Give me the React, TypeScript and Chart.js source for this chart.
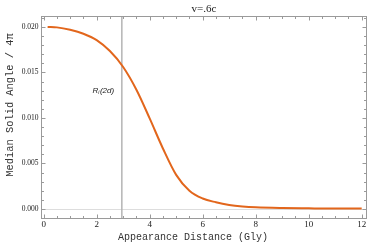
import React, { useEffect, useRef } from "react";
import { Chart, registerables } from "chart.js";
Chart.register(...registerables);

const distances = [0.15, 0.5, 1.0, 1.5, 2.0, 2.5, 3.0, 3.5, 4.0, 4.5, 5.0, 5.5, 6.0, 6.5, 7.0, 7.5, 8.0, 9.0, 10.0, 11.0, 12.0];
const solidAngle = [0.0200, 0.01995, 0.01968, 0.01925, 0.01855, 0.01735, 0.01560, 0.01310, 0.00995, 0.00665, 0.00375, 0.00200, 0.00115, 0.00074, 0.00045, 0.00028, 0.00018, 0.00010, 0.00007, 0.00005, 0.00005];
const xTicks = [0, 2, 4, 6, 8, 10, 12];
const yTicks = [0.0, 0.005, 0.01, 0.015, 0.02];
const yTickLabels = ["0.000", "0.005", "0.010", "0.015", "0.020"];
const markerX = 2.95;
const titleText = "v=.6c";
const xTitle = "Appearance Distance (Gly)";
const yTitle = "Median Solid Angle / 4\u03c0";

const framePlugin = {
  id: "frame",
  beforeDatasetsDraw(chart: any) {
    const { ctx, chartArea: a, scales } = chart;
    const xs = scales.x, ys = scales.y;
    ctx.save();
    ctx.strokeStyle = "#dddddd";
    ctx.lineWidth = 1;
    const y0 = Math.round(ys.getPixelForValue(0)) + 0.5;
    ctx.beginPath(); ctx.moveTo(a.left, y0); ctx.lineTo(a.right, y0); ctx.stroke();
    ctx.strokeStyle = "#b4b4b4";
    ctx.lineWidth = 1.5;
    const mx = xs.getPixelForValue(markerX);
    ctx.beginPath(); ctx.moveTo(mx, a.top); ctx.lineTo(mx, a.bottom); ctx.stroke();
    ctx.restore();
  },
  afterDatasetsDraw(chart: any) {
    const { ctx, chartArea: a, scales } = chart;
    const xs = scales.x, ys = scales.y;
    ctx.save();
    ctx.strokeStyle = "#9a9a9a";
    ctx.lineWidth = 1;
    const L = Math.round(a.left) + 0.5, R = Math.round(a.right) - 0.5;
    const T = Math.round(a.top) + 0.5, B = Math.round(a.bottom) - 0.5;
    ctx.strokeRect(L, T, R - L, B - T);
    for (let v = 0; v <= 12.001; v += 0.5) {
      const major = Math.abs(v - Math.round(v / 2) * 2) < 1e-6;
      const len = major ? 4 : 2.5;
      const px = Math.round(xs.getPixelForValue(v)) + 0.5;
      ctx.beginPath();
      ctx.moveTo(px, B); ctx.lineTo(px, B - len);
      ctx.moveTo(px, T); ctx.lineTo(px, T + len);
      ctx.stroke();
    }
    for (let i = -1; i <= 21; i++) {
      const v = i * 0.001;
      const major = i % 5 === 0;
      const len = major ? 4 : 2.5;
      const py = Math.round(ys.getPixelForValue(v)) + 0.5;
      if (py < T || py > B) continue;
      ctx.beginPath();
      ctx.moveTo(L, py); ctx.lineTo(L + len, py);
      ctx.moveTo(R, py); ctx.lineTo(R - len, py);
      ctx.stroke();
    }
    ctx.fillStyle = "#222";
    ctx.font = "9px 'Liberation Serif'";
    ctx.textAlign = "center";
    ctx.textBaseline = "top";
    xTicks.forEach((v) => {
      ctx.fillText(String(v), xs.getPixelForValue(v), B + 2);
    });
    ctx.font = "7.5px 'Liberation Serif'";
    ctx.textAlign = "right";
    ctx.textBaseline = "middle";
    yTicks.forEach((v, i) => {
      ctx.fillText(yTickLabels[i], L - 3, ys.getPixelForValue(v));
    });
    ctx.font = "11px 'Liberation Serif'";
    ctx.textAlign = "center";
    ctx.textBaseline = "middle";
    ctx.fillText(titleText, (a.left + a.right) / 2, 9.5);
    ctx.font = "10px 'Liberation Mono'";
    ctx.fillStyle = "#333";
    ctx.fillText(xTitle, 193, 237);
    ctx.save();
    ctx.translate(10, 105);
    ctx.rotate(-Math.PI / 2);
    ctx.font = "10.4px 'Liberation Mono'";
    ctx.fillText(yTitle, 0, 0);
    ctx.restore();
    ctx.fillStyle = "#222";
    ctx.textAlign = "left";
    ctx.textBaseline = "alphabetic";
    const ax = 92.5, ay = 92.5;
    ctx.font = "italic 8px 'Liberation Sans'";
    ctx.fillText("R", ax, ay);
    const rw = ctx.measureText("R").width;
    ctx.font = "italic 5px 'Liberation Sans'";
    ctx.fillText("i", ax + rw, ay + 1.5);
    ctx.font = "italic 8px 'Liberation Sans'";
    ctx.fillText("(2d)", ax + rw + 1.6, ay);
    ctx.restore();
  },
};

export default function App() {
  const ref = useRef<HTMLCanvasElement>(null);
  useEffect(() => {
    const chart = new Chart(ref.current!, {
      type: "scatter",
      data: {
        datasets: [
          {
            data: distances.map((d, i) => ({ x: d, y: solidAngle[i] })),
            showLine: true,
            borderColor: "#e2661c",
            borderWidth: 2,
            pointRadius: 0,
            cubicInterpolationMode: "monotone",
          },
        ],
      },
      options: {
        animation: false,
        responsive: false,
        layout: { padding: { left: 41, right: 7, top: 16, bottom: 29 } },
        plugins: { legend: { display: false }, tooltip: { enabled: false } },
        scales: {
          x: { type: "linear", min: -0.1, max: 12.2, display: false },
          y: { type: "linear", min: -0.0011, max: 0.0212, display: false },
        },
      },
      plugins: [framePlugin],
    });
    return () => chart.destroy();
  }, []);
  return (
    <div style={{ position: "fixed", left: 0, top: 0, width: 374, height: 248, background: "#fff" }}>
      <canvas ref={ref} width={374} height={248} style={{ width: 374, height: 248 }} />
    </div>
  );
}
